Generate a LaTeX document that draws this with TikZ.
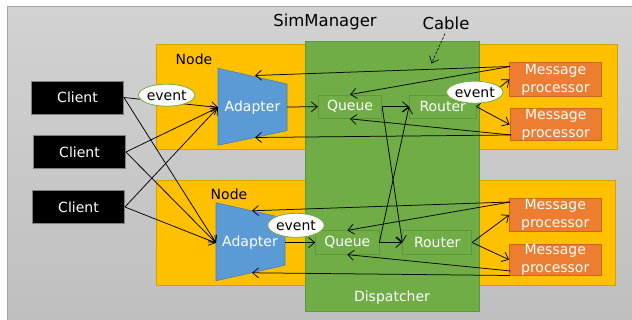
\documentclass[tikz,border=0pt]{standalone}
\usepackage{fontspec}
\setmainfont{DejaVu Sans}
\usetikzlibrary{arrows.meta,calc,shapes.geometric}

\definecolor{panelbg}{HTML}{D2D2D2}
\definecolor{panelbgb}{HTML}{BFBFBF}
\definecolor{panelborder}{HTML}{A6A6A6}
\definecolor{nodeyellow}{HTML}{FFC000}
\definecolor{nodeyellowline}{HTML}{D4A200}
\definecolor{dispgreen}{HTML}{70AD47}
\definecolor{dispgreenline}{HTML}{5E973B}
\definecolor{adblue}{HTML}{5B9BD5}
\definecolor{adblueline}{HTML}{4A80B3}
\definecolor{mporange}{HTML}{ED7D31}
\definecolor{mporangeline}{HTML}{C8661F}

\tikzset{
  base/.style={font=\fontsize{14}{18}\selectfont, inner sep=0pt, align=center},
  bigtext/.style={font=\fontsize{16.5}{20}\selectfont, inner sep=0pt},
  clientbox/.style={base, fill=black, draw=gray, line width=0.8pt, text=white,
    minimum width=92pt, minimum height=33pt},
  nodearea/.style={fill=nodeyellow, draw=nodeyellowline, line width=1pt, inner sep=0pt,
    anchor=north west},
  disparea/.style={fill=dispgreen, draw=dispgreenline, line width=1pt, inner sep=0pt,
    anchor=north west},
  adaptershape/.style={fill=adblue, draw=adblueline, line width=0.6pt},
  inbox/.style={base, fill=dispgreen, draw=dispgreenline, line width=0.8pt, text=white,
    minimum height=23.5pt},
  mpbox/.style={base, fill=mporange, draw=mporangeline, line width=0.8pt, text=white,
    minimum width=91.5pt},
  eventbubble/.style={base, ellipse, fill=white, draw=dispgreen, line width=0.8pt,
    minimum width=55pt, minimum height=22pt},
  flow/.style={draw=black, line width=0.75pt, -{Straight Barb[length=6pt,width=10pt]}},
  cableline/.style={flow, dash pattern=on 2.5pt off 1.5pt, line width=0.6pt},
}

\begin{document}
\begin{tikzpicture}[x=1pt, y=-1pt]
\useasboundingbox (0,0) rectangle (632,320);

% grey panel
\shade[top color=panelbg, bottom color=panelbgb] (7,7) rectangle (632,320);
\draw[panelborder, line width=1pt] (7,320) -- (7,7) -- (632,7);

% node areas
\node[nodearea, minimum width=461pt, minimum height=105pt] (nodeA) at (155.5,44) {};
\node[nodearea, minimum width=459.5pt, minimum height=105pt] (nodeB) at (155.5,180) {};

% dispatcher
\node[disparea, minimum width=174pt, minimum height=270pt] (disp) at (305,41) {};

% adapters (trapezoids)
\coordinate (adAnw) at (218,68.3);
\coordinate (adAne) at (287,84);
\coordinate (adAse) at (287,130.7);
\coordinate (adAsw) at (218,145.3);
\path[adaptershape] (adAnw) -- (adAne) -- (adAse) -- (adAsw) -- cycle;
\node[base, text=white] (adA) at (252.5,107.5) {Adapter};
\coordinate (adAin) at (218,107.5);
\coordinate (adAout) at (287,107);
\coordinate (adAtop) at (255,75.5);
\coordinate (adAbot) at (255,137.5);

\coordinate (adBnw) at (216,202.7);
\coordinate (adBne) at (285,218.3);
\coordinate (adBse) at (285,265.3);
\coordinate (adBsw) at (216,280.7);
\path[adaptershape] (adBnw) -- (adBne) -- (adBse) -- (adBsw) -- cycle;
\node[base, text=white] (adB) at (250,243) {Adapter};
\coordinate (adBin) at (216,243);
\coordinate (adBout) at (285,242.6);
\coordinate (adBtop) at (252,210.8);
\coordinate (adBbot) at (252,272.8);

% queues and routers
\node[inbox, minimum width=63.5pt] (qA) at (350,106.7) {Queue};
\node[inbox, minimum width=66.7pt] (rA) at (442.7,106.7) {Router};
\node[inbox, minimum width=63.3pt] (qB) at (347.3,242.5) {Queue};
\node[inbox, minimum width=69pt] (rB) at (437.2,242.5) {Router};

% message processors
\node[mpbox, minimum height=34pt] (mA1) at (555.5,79.5) {Message\\processor};
\node[mpbox, minimum height=32.5pt] (mA2) at (555.8,124.5) {Message\\processor};
\node[mpbox, minimum height=33.4pt] (mB1) at (555.2,215) {Message\\processor};
\node[mpbox, minimum height=31pt] (mB2) at (555.2,259.7) {Message\\processor};

\coordinate (mA1o) at (510,66.5);
\coordinate (mA2o) at (511,135);
\coordinate (mB1o) at (510,202);
\coordinate (mB2q) at (510.5,271);
\coordinate (mB2a) at (509.5,275.5);

% clients
\node[clientbox] (c1) at (77.5,97.5) {Client};
\node[clientbox] (c2) at (79.5,152) {Client};
\node[clientbox] (c3) at (78.5,207) {Client};

% labels
\node[base] (labA) at (194,59) {Node};
\node[base] (labB) at (229,194) {Node};
\node[bigtext] (simm) at (325,22) {SimManager};
\node[bigtext] (cable) at (446,23) {Cable};
\node[base, text=white] (displab) at (392,298) {Dispatcher};
\coordinate (cablept) at (431.5,63.5);

% client to adapter connections
\draw[flow] (c1.east) -- (adAin);
\draw[flow] (c1.east) -- (adBin);
\draw[flow] (c2.east) -- (adAin);
\draw[flow] (c2.east) -- (adBin);
\draw[flow] (c3.east) -- (adAin);
\draw[flow] (c3.east) -- (adBin);

% adapter to queue
\draw[flow] (adAout) -- (qA.west);
\draw[flow] (adBout) -- (qB.west);

% queue to router
\draw[flow] (qA.east) -- (rA.west);
\draw[flow] (qA.east) -- (rB.west);
\draw[flow] (qB.east) -- (rA.west);
\draw[flow] (qB.east) -- (rB.west);

% router to message processors
\draw[flow] (rA.east) -- (mA1.west);
\draw[flow] (rA.east) -- (mA2.west);
\draw[flow] (rB.east) -- (mB1.west);
\draw[flow] (rB.east) -- (mB2.west);

% message processors back to queue and adapter
\draw[flow] (mA1o) -- (adAtop);
\draw[flow] (mA1o) -- (qA.north);
\draw[flow] (mA2o) -- (qA.south);
\draw[flow] (mA2o) -- (adAbot);
\draw[flow] (mB1o) -- (adBtop);
\draw[flow] (mB1o) -- (qB.north);
\draw[flow] (mB2q) -- (qB.south);
\draw[flow] (mB2a) -- (adBbot);

% cable pointer
\draw[cableline] ($(cable.south)+(-1,4)$) -- (cablept);

% events
\node[eventbubble] (evA) at (166.7,95.2) {event};
\node[eventbubble, minimum width=54pt] (evR) at (474.8,92.2) {event};
\node[eventbubble, minimum width=54pt, minimum height=24pt] (evB) at (296,225.3) {event};
\end{tikzpicture}
\end{document}
